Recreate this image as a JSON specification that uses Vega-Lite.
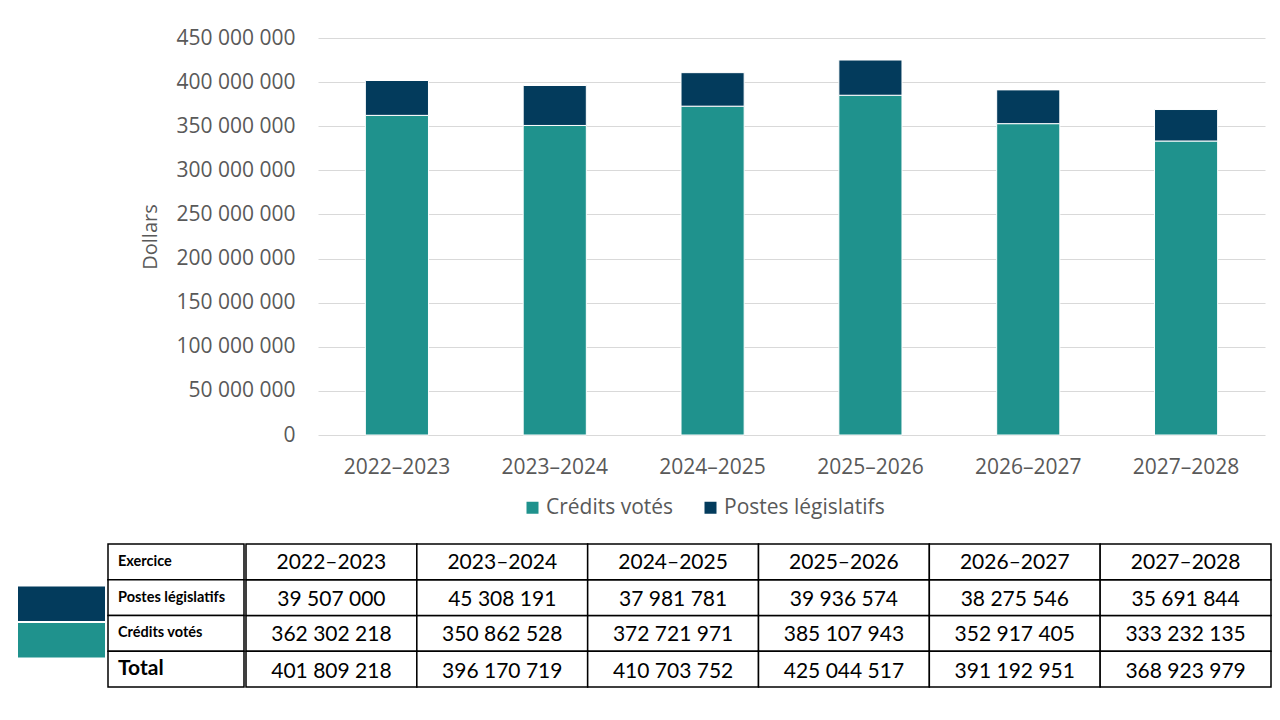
{
  "$schema": "https://vega.github.io/schema/vega-lite/v6.json",
  "background": "white",
  "padding": {"left": 18, "top": 27, "right": 0, "bottom": 0},
  "datasets": {
    "budget": [
      {"annee": "2022–2023", "type": "Crédits votés", "montant": 362302218},
      {"annee": "2022–2023", "type": "Postes législatifs", "montant": 39507000},
      {"annee": "2023–2024", "type": "Crédits votés", "montant": 350862528},
      {"annee": "2023–2024", "type": "Postes législatifs", "montant": 45308191},
      {"annee": "2024–2025", "type": "Crédits votés", "montant": 372721971},
      {"annee": "2024–2025", "type": "Postes législatifs", "montant": 37981781},
      {"annee": "2025–2026", "type": "Crédits votés", "montant": 385107943},
      {"annee": "2025–2026", "type": "Postes législatifs", "montant": 39936574},
      {"annee": "2026–2027", "type": "Crédits votés", "montant": 352917405},
      {"annee": "2026–2027", "type": "Postes législatifs", "montant": 38275546},
      {"annee": "2027–2028", "type": "Crédits votés", "montant": 333232135},
      {"annee": "2027–2028", "type": "Postes législatifs", "montant": 35691844}
    ],
    "lignes": [
      {"ligne": "Exercice"},
      {"ligne": "Postes législatifs"},
      {"ligne": "Crédits votés"},
      {"ligne": "Total"}
    ]
  },
  "columns": 2,
  "align": {"row": "each", "column": "none"},
  "spacing": {"row": 66, "column": 2},
  "concat": [
    {
      "width": 87,
      "height": 1,
      "data": {"values": []},
      "mark": {"type": "rect"},
      "encoding": {}
    },
    {
      "width": 947,
      "height": 397,
      "data": {"name": "budget"},
      "mark": {"type": "bar", "stroke": "white", "strokeWidth": 1},
      "encoding": {
        "x": {
          "field": "annee", "type": "nominal", "sort": null,
          "scale": {"paddingInner": 0.6, "paddingOuter": 0.3},
          "axis": {"title": null, "labelAngle": 0, "ticks": false, "domain": false, "labelPadding": 21,
                   "labelFontSize": 21, "labelColor": "#595959", "labelFont": "Open Sans"}
        },
        "y": {
          "field": "montant", "type": "quantitative", "stack": "zero",
          "scale": {"domain": [0, 450000000], "nice": false},
          "axis": {
            "title": "Dollars", "titleFont": "Open Sans", "titleFontSize": 20, "titleFontWeight": "normal",
            "titleColor": "#595959", "titleX": -158, "titleY": 198.5,
            "values": [0, 50000000, 100000000, 150000000, 200000000, 250000000, 300000000, 350000000, 400000000, 450000000],
            "format": ",.0f", "labelFont": "Open Sans", "labelFontSize": 21, "labelColor": "#595959",
            "labelPadding": 23, "ticks": false, "domain": false, "minExtent": 211,
            "gridColor": "#d9d9d9", "gridWidth": 1
          }
        },
        "color": {
          "field": "type", "type": "nominal",
          "scale": {"domain": ["Crédits votés", "Postes législatifs"], "range": ["#1f928d", "#033b5c"]},
          "legend": {
            "title": null, "orient": "none", "legendX": 504, "legendY": 459, "direction": "horizontal",
            "symbolType": "square", "symbolSize": 144, "symbolStrokeWidth": 0, "symbolOpacity": 1,
            "labelFont": "Open Sans", "labelFontSize": 21, "labelColor": "#595959", "labelLimit": 400,
            "labelOffset": 3, "columnPadding": 26
          }
        },
        "order": {"field": "type", "sort": "ascending"}
      }
    },
    {
      "width": 87,
      "height": 150,
      "data": {"name": "budget"},
      "transform": [{"aggregate": [{"op": "count", "as": "n"}], "groupby": ["type"]}],
      "mark": {"type": "rect"},
      "encoding": {
        "x": {"datum": "cle", "type": "nominal", "scale": {"paddingInner": 0, "paddingOuter": 0}, "axis": null},
        "y": {"field": "type", "type": "nominal",
              "scale": {"domain": ["Exercice", "Postes législatifs", "Crédits votés", "Total"], "paddingInner": 0.054, "paddingOuter": 0.08, "align": 1},
              "axis": null},
        "color": {"field": "type", "type": "nominal",
                  "scale": {"domain": ["Crédits votés", "Postes législatifs"], "range": ["#1f928d", "#033b5c"]},
                  "legend": null}
      }
    },
    {
      "spacing": 0,
      "hconcat": [
        {
          "width": 136,
          "height": 143,
          "data": {"name": "lignes"},
          "encoding": {
            "x": {"datum": "libelle", "type": "nominal", "scale": {"paddingInner": 0, "paddingOuter": 0}, "axis": null},
            "y": {"field": "ligne", "type": "nominal",
                  "scale": {"domain": ["Exercice", "Postes législatifs", "Crédits votés", "Total"], "paddingInner": 0, "paddingOuter": 0},
                  "axis": null}
          },
          "layer": [
            {"mark": {"type": "rect", "fill": "white", "stroke": "black", "strokeWidth": 1.5}},
            {
              "mark": {"type": "text", "align": "left", "baseline": "middle", "dx": 10, "font": "Lato", "fontWeight": "bold", "color": "black"},
              "encoding": {
                "x": {"datum": "libelle", "type": "nominal", "bandPosition": 0},
                "text": {"field": "ligne"},
                "size": {"condition": {"test": "datum.ligne === 'Total'", "value": 21}, "value": 14.5}
              }
            }
          ]
        },
        {
          "width": 1025,
          "height": 143,
          "data": {"name": "budget"},
          "encoding": {
            "x": {"field": "annee", "type": "nominal", "sort": null, "scale": {"paddingInner": 0, "paddingOuter": 0}, "axis": null}
          },
          "layer": [
            {
              "mark": {"type": "rect", "fill": "white", "stroke": "black", "strokeWidth": 1.5},
              "encoding": {
                "y": {"field": "type", "type": "nominal",
                      "scale": {"domain": ["Exercice", "Postes législatifs", "Crédits votés", "Total"], "paddingInner": 0, "paddingOuter": 0},
                      "axis": null}
              }
            },
            {
              "mark": {"type": "text", "baseline": "middle", "dy": 2, "font": "Lato", "fontSize": 21, "color": "black"},
              "encoding": {
                "y": {"field": "type", "type": "nominal"},
                "text": {"field": "montant", "type": "quantitative", "format": ","}
              }
            },
            {
              "transform": [{"aggregate": [{"op": "sum", "field": "montant", "as": "total"}], "groupby": ["annee"]}],
              "layer": [
                {
                  "mark": {"type": "rect", "fill": "white", "stroke": "black", "strokeWidth": 1.5},
                  "encoding": {"y": {"datum": "Exercice", "type": "nominal"}}
                },
                {
                  "mark": {"type": "rect", "fill": "white", "stroke": "black", "strokeWidth": 1.5},
                  "encoding": {"y": {"datum": "Total", "type": "nominal"}}
                },
                {
                  "mark": {"type": "text", "baseline": "middle", "dy": 1, "font": "Lato", "fontSize": 21, "color": "black"},
                  "encoding": {"y": {"datum": "Exercice", "type": "nominal"}, "text": {"field": "annee"}}
                },
                {
                  "mark": {"type": "text", "baseline": "middle", "dy": 3, "font": "Lato", "fontSize": 21, "color": "black"},
                  "encoding": {"y": {"datum": "Total", "type": "nominal"}, "text": {"field": "total", "type": "quantitative", "format": ","}}
                }
              ]
            }
          ]
        }
      ]
    }
  ],
  "config": {
    "view": {"stroke": null},
    "locale": {"number": {"decimal": ",", "thousands": " ", "grouping": [3], "currency": ["", " $"]}}
  }
}
